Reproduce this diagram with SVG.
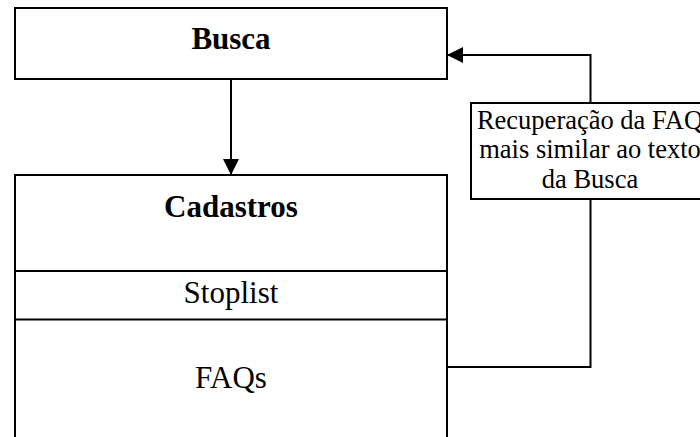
<svg xmlns="http://www.w3.org/2000/svg" width="700" height="437" viewBox="0 0 700 437">
<style>
.box{fill:#fff;stroke:#000;stroke-width:2}
.sep{stroke:#000;stroke-width:2}
.conn{fill:none;stroke:#000;stroke-width:2}
.t{font-family:"Liberation Serif","Times New Roman",serif;fill:#000;text-anchor:middle}
.big{font-size:31px}
.b{font-weight:bold}
.lbl{font-size:26.5px}
</style>
<defs>
<marker id="arr" markerUnits="userSpaceOnUse" markerWidth="16" markerHeight="16" refX="16" refY="8" orient="auto" viewBox="0 0 16 16">
<path d="M0,0 L16,8 L0,16 z" fill="#000"/>
</marker>
</defs>
<rect width="700" height="437" fill="#fff"/>
<g id="connectors">
<path class="conn" d="M231,79 V175" marker-end="url(#arr)"/>
<path class="conn" d="M590.5,103 V55 H447" marker-end="url(#arr)"/>
<path class="conn" d="M590.5,199 V367 H447"/>
</g>
<g id="busca">
<rect class="box" x="15" y="8" width="432" height="71"/>
<text class="t big b" x="231" y="49">Busca</text>
</g>
<g id="cadastros">
<rect class="box" x="15" y="175" width="432" height="300"/>
<line class="sep" x1="15" y1="271" x2="447" y2="271"/>
<line class="sep" x1="15" y1="319.5" x2="447" y2="319.5"/>
<text class="t big b" x="231" y="217">Cadastros</text>
<text class="t big" x="231" y="303">Stoplist</text>
<text class="t big" x="231" y="388">FAQs</text>
</g>
<g id="label">
<rect class="box" x="471" y="103" width="240" height="96"/>
<text class="t lbl" x="590" y="129">Recuperação da FAQ</text>
<text class="t lbl" x="590" y="158">mais similar ao texto</text>
<text class="t lbl" x="590" y="188">da Busca</text>
</g>
</svg>
